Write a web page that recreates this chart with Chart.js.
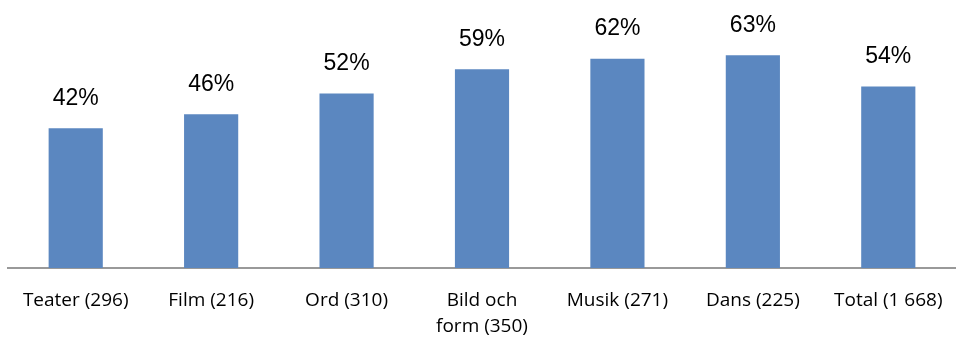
<!DOCTYPE html>
<html>
<head>
<meta charset="utf-8">
<script src="https://cdn.jsdelivr.net/npm/chart.js@4"></script>
<style>
    html, body { margin: 0; padding: 0; background: #fff; }
    #wrap { width: 956px; height: 338px; position: relative; }
</style>
</head>
<body>
<div id="wrap"><canvas id="chart"></canvas></div>
<script>
// Categories and values
const categories = [
    "Teater (296)",
    "Film (216)",
    "Ord (310)",
    ["Bild och", "form (350)"],
    "Musik (271)",
    "Dans (225)",
    "Total (1 668)",
];
const shares = [42, 46, 52, 59, 62, 63, 54];

// Draws the percentage above every bar
const valueLabels = {
    id: "valueLabels",
    afterDatasetsDraw(chart) {
        const ctx = chart.ctx;
        const meta = chart.getDatasetMeta(0);
        ctx.save();
        ctx.font = "23px 'Liberation Sans', Arial, sans-serif";
        ctx.fillStyle = "#000";
        ctx.textAlign = "center";
        ctx.textBaseline = "middle";
        meta.data.forEach((bar, i) => {
            ctx.fillText(shares[i] + "%", bar.x, bar.y - 30);
        });
        ctx.restore();
    },
};

new Chart(document.getElementById("chart"), {
    type: "bar",
    data: {
        labels: categories,
        datasets: [{
            data: shares,
            backgroundColor: "#5b87c0",
            borderWidth: 0,
            barPercentage: 0.4,
            categoryPercentage: 1,
        }],
    },
    options: {
        responsive: true,
        maintainAspectRatio: false,
        animation: false,
        layout: { padding: { left: 8, right: 0, top: 31, bottom: 0 } },
        plugins: {
            legend: { display: false },
            tooltip: { enabled: false },
        },
        scales: {
            x: {
                // invisible tick marks push the labels down without adding side padding
                grid: {
                    display: true,
                    drawOnChartArea: false,
                    drawTicks: true,
                    tickLength: 17,
                    tickColor: "rgba(0,0,0,0)",
                },
                border: { display: true, color: "#999", width: 2 },
                ticks: {
                    color: "#000",
                    padding: 3,
                    maxRotation: 0,
                    autoSkip: false,
                    font: { family: "'Open Sans', sans-serif", size: 19, lineHeight: 1.35 },
                },
                afterFit(scale) { scale.height = 70; },
            },
            y: {
                display: false,
                min: 1.7,
                max: 70,
            },
        },
    },
    plugins: [valueLabels],
});
</script>
</body>
</html>
